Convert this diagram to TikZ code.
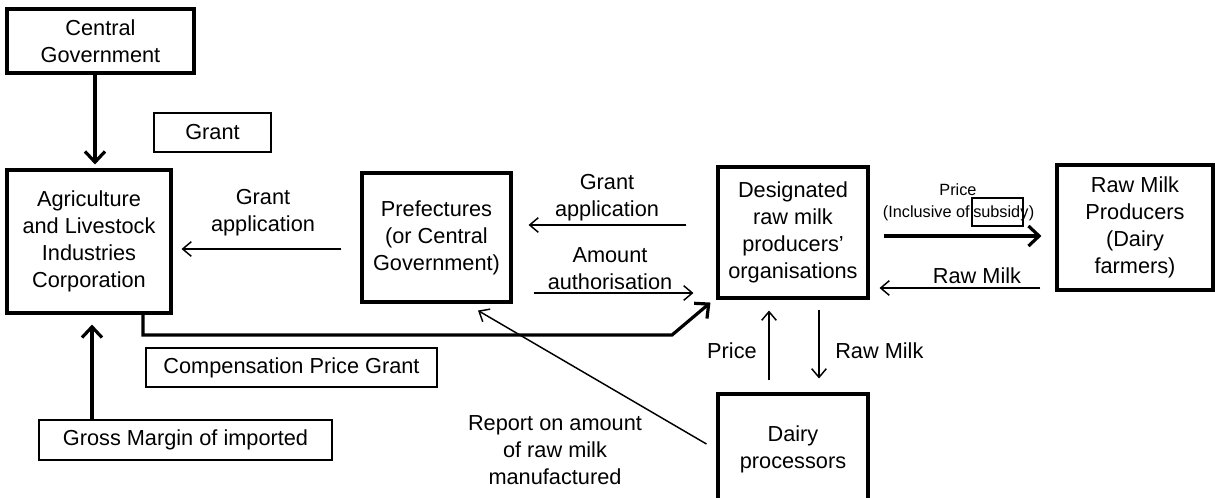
\documentclass[tikz,border=0pt]{standalone}
\usepackage{fontspec}
\setmainfont{Liberation Sans}
\usetikzlibrary{arrows.meta,calc}
\tikzset{
  every node/.style={font=\fontsize{16.3}{20.25}\selectfont, align=center},
  thickbox/.style={draw, line width=2.3pt, inner sep=0pt},
  thinbox/.style={draw, line width=1.2pt, inner sep=0pt},
  thinarr/.style={line width=1.1pt, -{Straight Barb[length=6.5pt,width=11pt]}},
  thickarr/.style={line width=2.4pt, -{Straight Barb[length=8pt,width=15pt]}},
  lbl/.style={inner sep=0pt},
  small/.style={inner sep=0pt, font=\fontsize{12.2}{14}\selectfont},
}
\begin{document}
\begin{tikzpicture}[x=0.75pt,y=-0.75pt]
\useasboundingbox (0,0) rectangle (1215,497);

% boxes
\node[thickbox, minimum width=140.25pt, minimum height=48pt] (cg) at (100.5,41) {Central\\Government};
\node[thinbox, minimum width=87.75pt, minimum height=29.25pt] (grant) at (212.5,132.5) {Grant};
\node[thickbox, minimum width=123pt, minimum height=107.25pt] (alic) at (89,241.5) {Agriculture\\and Livestock\\Industries\\Corporation};
\node[thickbox, minimum width=111.75pt, minimum height=96.75pt] (pref) at (436.5,237.5) {Prefectures\\(or Central\\Government)};
\node[thickbox, minimum width=112.5pt, minimum height=98.25pt] (drmpo) at (793,232.5) {Designated\\raw milk\\producers'\\organisations};
\node[thickbox, minimum width=117pt, minimum height=93.75pt] (rmp) at (1135,227.5) {Raw Milk\\Producers\\(Dairy\\farmers)};
\node[thickbox, minimum width=112.5pt, minimum height=82.5pt] (dairy) at (793,449) {Dairy\\processors};
\node[thinbox, minimum width=218.25pt, minimum height=29.25pt] (comp) at (291.5,367.5) {Compensation Price Grant};
\node[thinbox, minimum width=219.75pt, minimum height=30pt] (gross) at (185.5,440) {Gross Margin of imported};

% labels
\node[lbl] (l1) at (263,213) {Grant\\application};
\node[lbl] (l2) at (607,197.5) {Grant\\application};
\node[lbl] (l3) at (610,268.5) {Amount\\authorisation};
\node[small] (pr) at (958,190) {Price};
\node[small, anchor=east] (inc) at (970,213) {(Inclusive of};
\node[draw, line width=1.2pt, inner sep=0pt, minimum width=38.25pt, minimum height=21pt] (subbox) at (997.5,212) {};
\node[small, anchor=west] (sub) at (973,213) {subsidy};
\node[small, anchor=west] (par) at (sub.east) {)};
\node[lbl] (l4) at (977,276) {Raw Milk};
\node[lbl, anchor=east] (l5) at (757,351) {Price};
\node[lbl, anchor=west] (l6) at (835,351) {Raw Milk};
\node[lbl] (l7) at (555,450) {Report on amount\\of raw milk\\manufactured};

% connectors
\draw[thickarr, shorten >=3pt] ($(cg.south)+(-5.5,0)$) -- ($(alic.north)+(6,0)$);
\draw[thinarr, shorten <=14.25pt, shorten >=6.75pt] (pref.west |- 0,249) -- (alic.east |- 0,249);
\draw[thinarr, shorten <=22.5pt, shorten >=12pt] (drmpo.west |- 0,225) -- (pref.east |- 0,225);
\draw[thinarr, shorten <=15.75pt, shorten >=17.25pt] (pref.east |- 0,293) -- (drmpo.west |- 0,293);
\draw[thickarr, shorten <=10.5pt, shorten >=10.5pt] (drmpo.east |- 0,236) -- (rmp.west |- 0,236);
\draw[thinarr, shorten <=11.25pt, shorten >=7.5pt] (rmp.west |- 0,288) -- (drmpo.east |- 0,288);
\draw[thinarr, shorten <=9pt, shorten >=8.25pt] (dairy.north -| 769,0) -- (drmpo.south -| 769,0);
\draw[thinarr, shorten <=7.5pt, shorten >=10.5pt] (drmpo.south -| 819,0) -- (dairy.north -| 819,0);
\draw[thinarr] ($(dairy.west)+(-10,-5)$) -- ($(pref.south)+(41.5,7)$);
\draw[thickarr, shorten >=7.5pt] (gross.north -| 92,0) -- (alic.south -| 92,0);
\coordinate (c1) at (143,335);
\coordinate (c2) at (672,335);
\draw[thickarr, line join=miter] (alic.south -| 143,0) -- (c1) -- (c2) -- ($(drmpo.south west)+(-6,3)$);
\end{tikzpicture}
\end{document}
